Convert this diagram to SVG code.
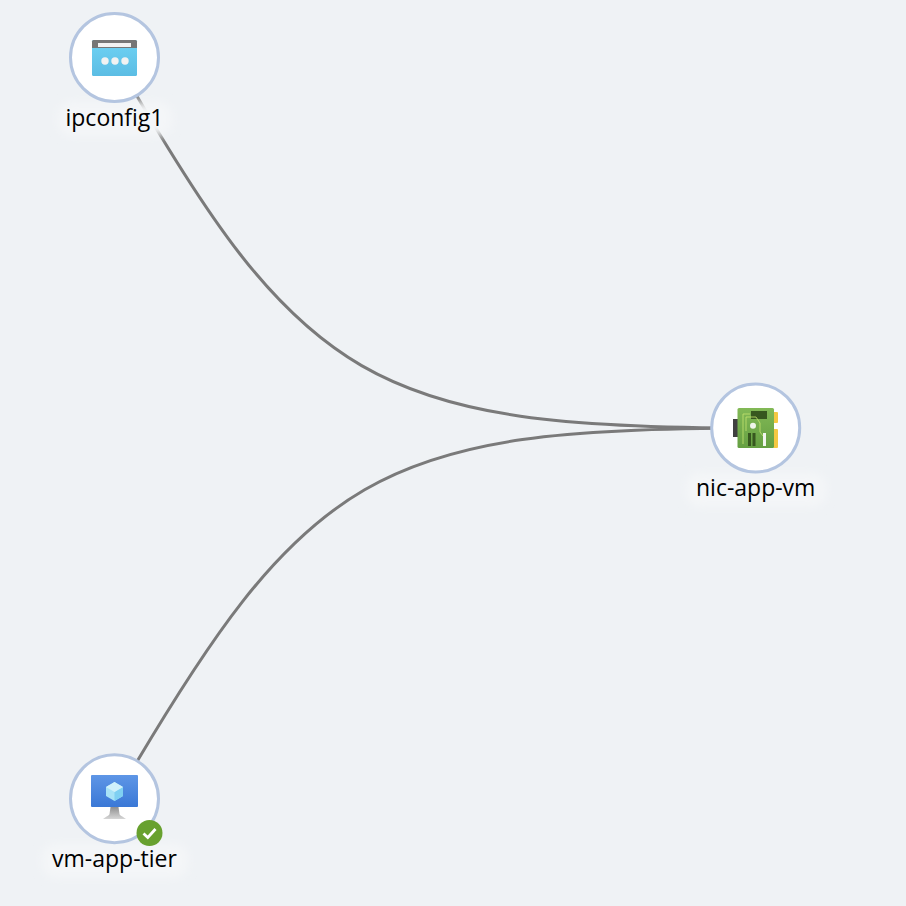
<svg xmlns="http://www.w3.org/2000/svg" width="906" height="906" viewBox="0 0 906 906">
<style>
.ring{fill:#fff;stroke:#b4c5e0;stroke-width:3}
.edge{fill:none;stroke:#7a7a7a;stroke-width:3}
.label{font-family:"Open Sans","Noto Sans","Liberation Sans",sans-serif;font-size:23px;fill:#000;text-anchor:middle}
.halo{fill:#f4f6f8;filter:url(#soft)}
</style>
<defs>
<filter id="soft" x="-20%" y="-40%" width="140%" height="180%"><feGaussianBlur stdDeviation="5"/></filter>
<linearGradient id="blueWin" x1="0" y1="0" x2="0" y2="1"><stop offset="0" stop-color="#6fd3f4"/><stop offset="1" stop-color="#5cbde4"/></linearGradient>
<linearGradient id="screen" x1="0" y1="0" x2="0" y2="1"><stop offset="0" stop-color="#5e96e6"/><stop offset="1" stop-color="#3a78d6"/></linearGradient>
<linearGradient id="stand" x1="0" y1="0" x2="0" y2="1"><stop offset="0" stop-color="#8f8f8f"/><stop offset="1" stop-color="#d6d6d6"/></linearGradient>
<linearGradient id="board" x1="0" y1="0" x2="0" y2="1"><stop offset="0" stop-color="#82b956"/><stop offset="1" stop-color="#659f42"/></linearGradient>
</defs>
<rect width="906" height="906" fill="#eff2f5"/>
<g id="connectors">
<path class="edge" d="M115 58C301 385 373 428 756 428"/>
<path class="edge" d="M115 799C306 469 376 428 756 428"/>
</g>
<g id="ipconfig1">
<rect class="halo" x="58" y="102" width="114" height="34" rx="14"/>
<circle class="ring" cx="114.500" cy="57.500" r="44"/>
<rect x="92" y="40" width="45" height="36" rx="1.500" fill="url(#blueWin)"/>
<path d="M92 48V41.500A1.500 1.500 0 0 1 93.500 40H135.500A1.500 1.500 0 0 1 137 41.500V48Z" fill="#767676"/>
<rect x="98" y="43" width="33" height="4" fill="#f2f2f2"/>
<circle cx="105" cy="61" r="3.700" fill="#f2f2f2"/>
<circle cx="115" cy="61" r="3.700" fill="#f2f2f2"/>
<circle cx="125" cy="61" r="3.700" fill="#f2f2f2"/>
<text class="label" x="114.500" y="126">ipconfig1</text>
</g>
<g id="nic-app-vm">
<rect class="halo" x="686" y="473" width="140" height="34" rx="14"/>
<circle class="ring" cx="755.700" cy="428" r="44"/>
<rect x="733" y="419" width="5" height="18" fill="#404040"/>
<rect x="773" y="412" width="5" height="11" rx="1" fill="#f5c842"/>
<rect x="773" y="429" width="5" height="19" rx="1" fill="#f5c842"/>
<rect x="737.500" y="408" width="36.500" height="40" rx="1.500" fill="url(#board)"/>
<rect x="751" y="411" width="16" height="8" fill="#37571f"/>
<path d="M743 444V414H750M746 431V417H756L760 423V432L763 436" fill="none" stroke="#c5e46f" stroke-width="0.800"/>
<circle cx="753" cy="425.700" r="3" fill="#f0f5ea"/>
<rect x="748" y="433" width="3" height="13" fill="#37571f"/>
<rect x="752.500" y="433" width="3" height="13" fill="#37571f"/>
<rect x="763" y="433" width="3" height="13" fill="#f2f5ee"/>
<text class="label" x="755.700" y="496">nic-app-vm</text>
</g>
<g id="vm-app-tier">
<rect class="halo" x="42" y="844" width="146" height="34" rx="14"/>
<circle class="ring" cx="114.500" cy="798.700" r="44"/>
<rect x="91" y="775" width="47" height="32" rx="1" fill="url(#screen)"/>
<path d="M110.500 807H118.500L119.500 814C120 816 123 816.500 126 819H103C106 816.500 109 816 109.500 814Z" fill="url(#stand)"/>
<path d="M114.500 782L123 787V796L114.500 801L106 796V787Z" fill="#a8e3f7"/>
<path d="M114.500 792L123 787V796L114.500 801Z" fill="#7fd0f2"/>
<path d="M114.500 792L106 787L114.500 782L123 787Z" fill="#d0f1fb"/>
<circle cx="149.500" cy="833" r="13" fill="#68a12f"/>
<path d="M143.500 833.500L147.800 837.500L155.500 829" fill="none" stroke="#fff" stroke-width="2.800"/>
<text class="label" x="114.500" y="867">vm-app-tier</text>
</g>
</svg>
